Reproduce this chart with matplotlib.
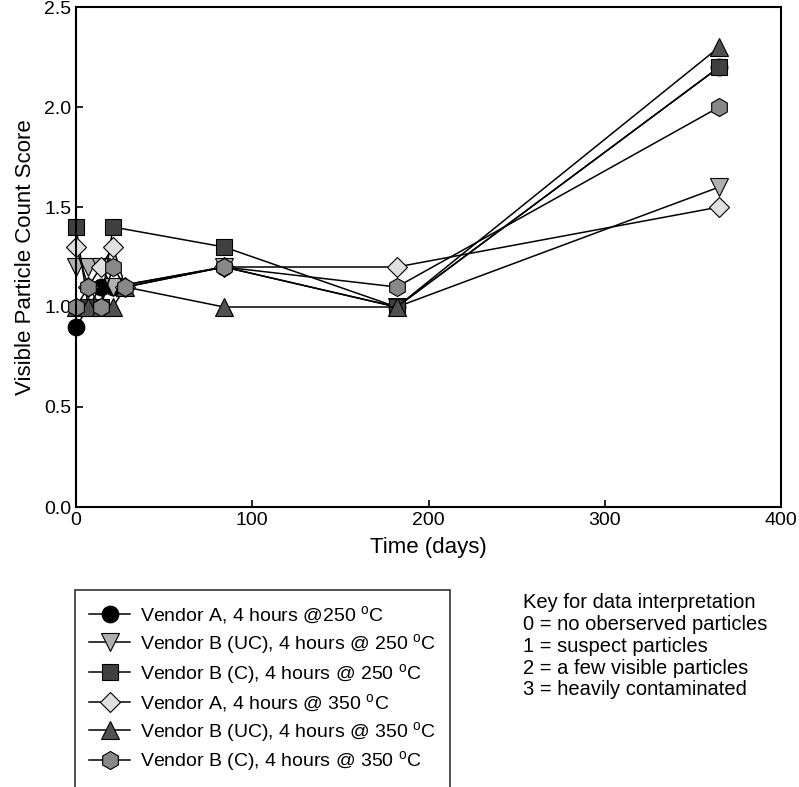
import matplotlib
matplotlib.use("Agg")
import matplotlib.pyplot as plt

plt.rcParams['font.family'] = ['Liberation Sans', 'DejaVu Sans']
plt.rcParams['mathtext.fontset'] = 'custom'
plt.rcParams['mathtext.rm'] = 'Liberation Sans'
plt.rcParams['mathtext.it'] = 'Liberation Sans'

labels = [
    "Vendor A, 4 hours @250 $^{\\mathrm{o}}$C",
    "Vendor B (UC), 4 hours @ 250 $^{\\mathrm{o}}$C",
    "Vendor B (C), 4 hours @ 250 $^{\\mathrm{o}}$C",
    "Vendor A, 4 hours @ 350 $^{\\mathrm{o}}$C",
    "Vendor B (UC), 4 hours @ 350 $^{\\mathrm{o}}$C",
    "Vendor B (C), 4 hours @ 350 $^{\\mathrm{o}}$C",
]

days_a250 = [0, 7, 14, 21, 84, 182, 365]
score_a250 = [0.9, 1.0, 1.1, 1.1, 1.2, 1.0, 2.2]
days_buc250 = [0, 7, 14, 21, 84, 182, 365]
score_buc250 = [1.2, 1.2, 1.2, 1.1, 1.2, 1.0, 1.6]
days_bc250 = [0, 7, 14, 21, 84, 182, 365]
score_bc250 = [1.4, 1.0, 1.0, 1.4, 1.3, 1.0, 2.2]
days_a350 = [0, 7, 14, 21, 28, 84, 182, 365]
score_a350 = [1.3, 1.1, 1.2, 1.3, 1.1, 1.2, 1.2, 1.5]
days_buc350 = [0, 7, 14, 21, 28, 84, 182, 365]
score_buc350 = [1.0, 1.0, 1.0, 1.0, 1.1, 1.0, 1.0, 2.3]
days_bc350 = [0, 7, 14, 21, 28, 84, 182, 365]
score_bc350 = [1.0, 1.1, 1.0, 1.2, 1.1, 1.2, 1.1, 2.0]

key_lines = [
    "Key for data interpretation",
    "0 = no oberserved particles",
    "1 = suspect particles",
    "2 = a few visible particles",
    "3 = heavily contaminated",
]

series = [
    (days_a250, score_a250, 'o', '#000000'),
    (days_buc250, score_buc250, 'v', '#b0b0b0'),
    (days_bc250, score_bc250, 's', '#404040'),
    (days_a350, score_a350, 'D', '#e0e0e0'),
    (days_buc350, score_buc350, '^', '#505050'),
    (days_bc350, score_bc350, 'h', '#888888'),
]
sizes = {'o': 12, 'v': 13, 's': 11, 'D': 10, '^': 13, 'h': 13}

fig = plt.figure(figsize=(7.99, 7.87), dpi=100)
ax = fig.add_axes([76/799, 1-507/787, (781-76)/799, 500/787])

handles = []
for (d, s, m, c), lab in zip(series, labels):
    h, = ax.plot(d, s, color='black', lw=1.1, marker=m, markersize=sizes[m],
                 markerfacecolor=c, markeredgecolor='black', markeredgewidth=0.8,
                 label=lab, clip_on=False)
    handles.append(h)

ax.set_xlim(0, 400)
ax.set_ylim(0, 2.5)
ax.set_xticks([0, 100, 200, 300, 400])
ax.set_yticks([0.0, 0.5, 1.0, 1.5, 2.0, 2.5])
ax.set_yticklabels(['0.0', '0.5', '1.0', '1.5', '2.0', '2.5'])
ax.tick_params(direction='in', length=5, width=1.2, labelsize=14, top=False, right=False)
for sp in ax.spines.values():
    sp.set_linewidth(1.5)
ax.set_xlabel("Time (days)", fontsize=16, labelpad=6)
ax.set_ylabel("Visible Particle Count Score", fontsize=16, labelpad=6)

leg = fig.legend(handles=handles, loc='upper left',
                 bbox_to_anchor=(65/799, 1-580/787), fontsize=14,
                 frameon=True, fancybox=False, edgecolor='black',
                 handlelength=2.1, labelspacing=0.3, borderpad=0.75,
                 handletextpad=0.5)
leg.get_frame().set_linewidth(1.2)

for i, t in enumerate(key_lines):
    fig.text(523/799, 1-(603 + i*21.7)/787, t, fontsize=14.5, va='center', ha='left')

fig.savefig("out.png", dpi=100)
